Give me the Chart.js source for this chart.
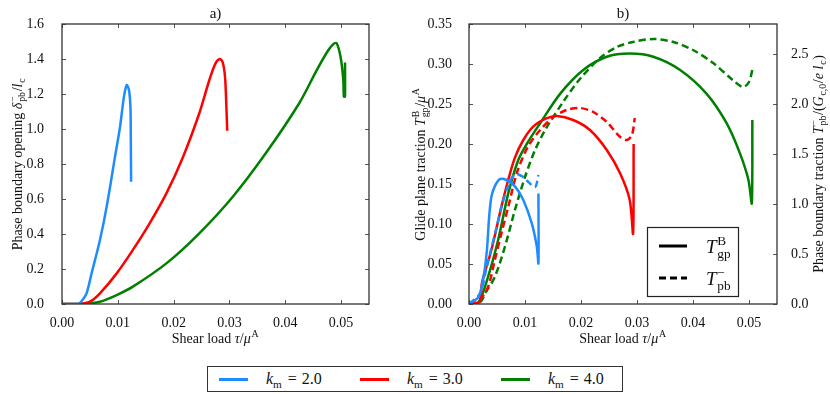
<!DOCTYPE html>
<html>
<head>
<meta charset="utf-8">
<script src="https://cdn.jsdelivr.net/npm/chart.js@4.4.1/dist/chart.umd.min.js"></script>
<style>
  body { margin: 0; background: #fff; width: 830px; height: 394px; position: relative; overflow: hidden; }
  canvas { position: absolute; top: 0; }
  #chartA { left: 0; }
  #chartB { left: 400px; }
  #legend { position: absolute; left: 207px; top: 366px; width: 414px; height: 24px; border: 1px solid #333;
            font-family: "Liberation Serif", "DejaVu Serif", serif; font-size: 16px; color: #111; }
  #legend .ln { position: absolute; top: 11px; width: 29px; height: 3px; }
  #legend .tx { position: absolute; top: 0; line-height: 24px; white-space: nowrap; }
  #legend .eq { margin: 0 5px 0 6px; }
  #legend sub { font-size: 0.7em; vertical-align: -0.35em; line-height: 0; }
</style>
</head>
<body>
<canvas id="chartA" width="400" height="360"></canvas>
<canvas id="chartB" width="430" height="360"></canvas>
<div id="legend"></div>
<script>
// series labels and colours
const kLabels = ['2.0', '3.0', '4.0'];
const kColors = ['#1e8cff', '#ff0000', '#007f00'];

// tick labels
const xTicks = [0, 0.01, 0.02, 0.03, 0.04, 0.05];
const aYTicks = [0, 0.2, 0.4, 0.6, 0.8, 1.0, 1.2, 1.4, 1.6];
const bYTicks = [0, 0.05, 0.10, 0.15, 0.20, 0.25, 0.30, 0.35];
const bY2Ticks = [0, 0.5, 1.0, 1.5, 2.0, 2.5];

// a) phase boundary opening vs shear load
const aBlueX = [0, 0.0029, 0.0036, 0.0044, 0.0053, 0.0068, 0.0080, 0.0095, 0.0104, 0.0111, 0.0116, 0.0120, 0.01226, 0.01232, 0.01238];
const aBlueY = [0, 0, 0.02, 0.061, 0.175, 0.366, 0.556, 0.842, 1.013, 1.185, 1.251, 1.223, 1.127, 0.975, 0.699];
const aRedX = [0, 0.0032, 0.005, 0.0068, 0.0098, 0.0127, 0.0157, 0.0187, 0.0217, 0.0246, 0.0264, 0.0275, 0.0283, 0.0288, 0.0292, 0.0294, 0.0296];
const aRedY = [0, 0, 0.013, 0.061, 0.175, 0.309, 0.461, 0.632, 0.842, 1.09, 1.28, 1.375, 1.40, 1.38, 1.30, 1.17, 0.99];
const aGreenX = [0, 0.0038, 0.0068, 0.0098, 0.0127, 0.0187, 0.0246, 0.0306, 0.0365, 0.0425, 0.0455, 0.0475, 0.0486, 0.0492, 0.0499, 0.0504, 0.0505, 0.0507, 0.0507];
const aGreenY = [0, 0, 0.013, 0.051, 0.099, 0.232, 0.404, 0.613, 0.861, 1.147, 1.328, 1.44, 1.485, 1.49, 1.413, 1.28, 1.185, 1.185, 1.38];

// b) glide plane traction (solid, left axis)
const bBlueX = [0, 0.0017, 0.0026, 0.0032, 0.0036, 0.0040, 0.0046, 0.0055, 0.0067, 0.0082, 0.0097, 0.0112, 0.0121, 0.0124, 0.0124];
const bBlueY = [0, 0.009, 0.034, 0.0675, 0.109, 0.134, 0.147, 0.156, 0.155, 0.147, 0.130, 0.101, 0.072, 0.051, 0.138];
const bRedX = [0, 0.0019, 0.0023, 0.0040, 0.0058, 0.0070, 0.0082, 0.0097, 0.0115, 0.0138, 0.0157, 0.0186, 0.0216, 0.0246, 0.0270, 0.0287, 0.0293, 0.0294];
const bRedY = [0, 0.003, 0.026, 0.0675, 0.122, 0.155, 0.183, 0.205, 0.222, 0.232, 0.235, 0.230, 0.2175, 0.1925, 0.163, 0.130, 0.088, 0.20];
const bGreenX = [0, 0.0017, 0.0034, 0.0052, 0.0070, 0.0088, 0.0103, 0.0127, 0.0163, 0.0204, 0.0246, 0.0287, 0.0329, 0.0377, 0.0424, 0.0460, 0.0484, 0.0499, 0.0505, 0.0506];
const bGreenY = [0, 0.002, 0.034, 0.080, 0.138, 0.180, 0.2, 0.226, 0.263, 0.2925, 0.309, 0.313, 0.309, 0.2925, 0.263, 0.226, 0.188, 0.155, 0.126, 0.23];

// b) phase boundary traction (dashed, right axis)
const bBlueDX = [0, 0.0020, 0.0030, 0.0040, 0.0049, 0.0058, 0.0068, 0.0082, 0.0097, 0.0106, 0.0118, 0.0124];
const bBlueDY = [0, 0.107, 0.33, 0.56, 0.76, 0.97, 1.15, 1.30, 1.27, 1.22, 1.17, 1.29];
const bRedDX = [0, 0.0020, 0.0034, 0.0046, 0.0058, 0.0070, 0.0086, 0.0105, 0.0127, 0.0151, 0.0174, 0.0198, 0.0222, 0.0246, 0.0270, 0.0282, 0.0291, 0.0296];
const bRedDY = [0, 0.05, 0.17, 0.44, 0.71, 0.97, 1.32, 1.57, 1.74, 1.87, 1.94, 1.96, 1.92, 1.82, 1.67, 1.64, 1.69, 1.86];
const bGreenDX = [0, 0.0020, 0.0029, 0.0046, 0.0064, 0.0082, 0.0100, 0.0118, 0.0138, 0.0168, 0.0198, 0.0234, 0.0264, 0.0293, 0.0329, 0.0365, 0.0400, 0.0436, 0.0471, 0.0489, 0.0500, 0.0507];
const bGreenDY = [0, 0.02, 0.107, 0.27, 0.57, 0.94, 1.27, 1.54, 1.76, 2.02, 2.25, 2.46, 2.57, 2.62, 2.65, 2.62, 2.54, 2.41, 2.24, 2.17, 2.22, 2.37];

const FONT = '"Liberation Serif", "DejaVu Serif", serif';
const TXT = '#111';

function pts(xs, ys) { return xs.map((x, i) => ({ x: x, y: ys[i] })); }
function fnt(size, it) { return (it ? 'italic ' : '') + size + 'px ' + FONT; }

// text with sub/superscripts, drawn on the canvas
function drawRich(ctx, parts, x, y, size, align) {
  ctx.save();
  let w = 0;
  const pos = [];
  parts.forEach(p => {
    if (p.sup !== undefined || p.sub !== undefined) {
      ctx.font = fnt(size * 0.7, false);
      const w1 = p.sup ? ctx.measureText(p.sup).width : 0;
      const w2 = p.sub ? ctx.measureText(p.sub).width : 0;
      pos.push(w); w += Math.max(w1, w2) + 1.5;
    } else {
      ctx.font = fnt(size, p.i);
      pos.push(w); w += ctx.measureText(p.t).width;
    }
  });
  const x0 = align === 'center' ? x - w / 2 : (align === 'right' ? x - w : x);
  ctx.textAlign = 'left';
  ctx.textBaseline = 'alphabetic';
  ctx.fillStyle = TXT;
  parts.forEach((p, i) => {
    if (p.sup !== undefined || p.sub !== undefined) {
      ctx.font = fnt(size * 0.7, false);
      if (p.sup) ctx.fillText(p.sup, x0 + pos[i] + 0.8, y - size * 0.42);
      if (p.sub) ctx.fillText(p.sub, x0 + pos[i] + 0.8, y + size * 0.25);
    } else {
      ctx.font = fnt(size, p.i);
      ctx.fillText(p.t, x0 + pos[i], y);
    }
  });
  ctx.restore();
}

function drawRotated(ctx, parts, cx, cy, size) {
  ctx.save();
  ctx.translate(cx, cy);
  ctx.rotate(-Math.PI / 2);
  drawRich(ctx, parts, 0, size * 0.35, size, 'center');
  ctx.restore();
}

const xTitle = [{ t: 'Shear load ' }, { t: 'τ', i: true }, { t: '/' }, { t: 'μ', i: true }, { sup: 'A' }];
const aYTitle = [{ t: 'Phase boundary opening ' }, { t: 'δ', i: true }, { sup: '−', sub: 'pb' }, { t: '/' }, { t: 'l', i: true }, { sub: 'c' }];
const bYTitle = [{ t: 'Glide plane traction ' }, { t: 'T', i: true }, { sup: 'B', sub: 'gp' }, { t: '/' }, { t: 'μ', i: true }, { sup: 'A' }];
const bY2Title = [{ t: 'Phase boundary traction ' }, { t: 'T', i: true }, { sup: '−', sub: 'pb' }, { t: '/(' }, { t: 'G', i: true }, { sub: 'c,0' },
  { t: '/' }, { t: 'e', i: true }, { t: ' ' }, { t: 'l', i: true }, { sub: 'c' }, { t: ')' }];

// frame, inward tick marks, titles
function decor(cfg) {
  return {
    id: 'decor',
    afterDraw(chart) {
      const ctx = chart.ctx, a = chart.chartArea, s = chart.scales;
      ctx.save();
      ctx.strokeStyle = '#555';
      ctx.lineWidth = 1;
      const seg = (x1, y1, x2, y2) => { ctx.beginPath(); ctx.moveTo(x1, y1); ctx.lineTo(x2, y2); ctx.stroke(); };
      s.x.ticks.forEach(t => {
        const px = Math.round(s.x.getPixelForValue(t.value)) + 0.5;
        seg(px, a.bottom, px, a.bottom - 4);
        seg(px, a.top, px, a.top + 4);
      });
      s.y.ticks.forEach(t => {
        const py = Math.round(s.y.getPixelForValue(t.value)) + 0.5;
        seg(a.left, py, a.left + 4, py);
        if (!s.y2) seg(a.right, py, a.right - 4, py);
      });
      if (s.y2) s.y2.ticks.forEach(t => {
        const py = Math.round(s.y2.getPixelForValue(t.value)) + 0.5;
        seg(a.right, py, a.right - 4, py);
      });
      ctx.strokeStyle = '#333';
      ctx.lineWidth = 1.3;
      ctx.strokeRect(a.left, a.top, a.right - a.left, a.bottom - a.top);
      ctx.restore();

      const cx = (a.left + a.right) / 2;
      ctx.save();
      ctx.font = fnt(15, false);
      ctx.fillStyle = TXT;
      ctx.textAlign = 'center';
      ctx.fillText(cfg.title, cx, 18);
      ctx.restore();
      drawRich(ctx, xTitle, cx, 343, 14, 'center');
      drawRotated(ctx, cfg.yTitle, cfg.yTitleX, (a.top + a.bottom) / 2, 14);
      if (cfg.y2Title) drawRotated(ctx, cfg.y2Title, cfg.y2TitleX, (a.top + a.bottom) / 2, 14);
      if (cfg.styleKey) cfg.styleKey(ctx);
    }
  };
}

function fixedTicks(list) { return scale => { scale.ticks = list.map(v => ({ value: v })); }; }
const tickFont = { family: FONT, size: 14 };

function line(label, xs, ys, color, dashed, axis) {
  return {
    label: label, data: pts(xs, ys), borderColor: color, backgroundColor: color,
    borderWidth: 2.5, borderDash: dashed ? [7, 4] : [], pointRadius: 0, tension: 0.3,
    yAxisID: axis || 'y', fill: false
  };
}

Chart.defaults.color = TXT;

new Chart(document.getElementById('chartA'), {
  type: 'line',
  data: {
    datasets: [
      line('k = ' + kLabels[0], aBlueX, aBlueY, kColors[0]),
      line('k = ' + kLabels[1], aRedX, aRedY, kColors[1]),
      line('k = ' + kLabels[2], aGreenX, aGreenY, kColors[2])
    ]
  },
  options: {
    responsive: false, animation: false,
    layout: { padding: { left: 0, top: 24, right: 31, bottom: 0 } },
    plugins: { legend: { display: false }, tooltip: { enabled: false } },
    scales: {
      x: {
        type: 'linear', min: 0, max: 0.055,
        grid: { display: false }, border: { display: false },
        afterBuildTicks: fixedTicks(xTicks), afterFit: s => { s.height = 56; },
        ticks: { font: tickFont, padding: 3, maxRotation: 0, callback: v => v.toFixed(2) }
      },
      y: {
        min: 0, max: 1.6,
        grid: { display: false }, border: { display: false },
        afterBuildTicks: fixedTicks(aYTicks), afterFit: s => { s.width = 62; },
        ticks: { font: tickFont, padding: 10, callback: v => v.toFixed(1) }
      }
    }
  },
  plugins: [decor({ title: 'a)', yTitle: aYTitle, yTitleX: 17 })]
});

function styleKey(ctx) {
  const x0 = 247, y0 = 227, w = 91, h = 69;
  ctx.save();
  ctx.fillStyle = '#fff';
  ctx.fillRect(x0, y0, w, h);
  ctx.strokeStyle = '#222';
  ctx.lineWidth = 1.2;
  ctx.strokeRect(x0 + 0.5, y0 + 0.5, w, h);
  ctx.strokeStyle = '#000';
  ctx.lineWidth = 3;
  ctx.beginPath(); ctx.moveTo(259, 246); ctx.lineTo(287, 246); ctx.stroke();
  ctx.setLineDash([7, 4]);
  ctx.beginPath(); ctx.moveTo(259, 278); ctx.lineTo(287, 278); ctx.stroke();
  ctx.restore();
  drawRich(ctx, [{ t: 'T', i: true }, { sup: 'B', sub: 'gp' }], 306, 253, 19, 'left');
  drawRich(ctx, [{ t: 'T', i: true }, { sup: '−', sub: 'pb' }], 306, 285, 19, 'left');
}

new Chart(document.getElementById('chartB'), {
  type: 'line',
  data: {
    datasets: [
      line('k = ' + kLabels[0], bBlueX, bBlueY, kColors[0]),
      line('k = ' + kLabels[0], bBlueDX, bBlueDY, kColors[0], true, 'y2'),
      line('k = ' + kLabels[1], bRedX, bRedY, kColors[1]),
      line('k = ' + kLabels[1], bRedDX, bRedDY, kColors[1], true, 'y2'),
      line('k = ' + kLabels[2], bGreenX, bGreenY, kColors[2]),
      line('k = ' + kLabels[2], bGreenDX, bGreenDY, kColors[2], true, 'y2')
    ]
  },
  options: {
    responsive: false, animation: false,
    layout: { padding: { left: 0, top: 24, right: 0, bottom: 0 } },
    plugins: { legend: { display: false }, tooltip: { enabled: false } },
    scales: {
      x: {
        type: 'linear', min: 0, max: 0.055,
        grid: { display: false }, border: { display: false },
        afterBuildTicks: fixedTicks(xTicks), afterFit: s => { s.height = 56; },
        ticks: { font: tickFont, padding: 3, maxRotation: 0, callback: v => v.toFixed(2) }
      },
      y: {
        position: 'left', min: 0, max: 0.35,
        grid: { display: false }, border: { display: false },
        afterBuildTicks: fixedTicks(bYTicks), afterFit: s => { s.width = 69; },
        ticks: { font: tickFont, padding: 9, callback: v => v.toFixed(2) }
      },
      y2: {
        position: 'right', min: 0, max: 2.8,
        grid: { display: false }, border: { display: false },
        afterBuildTicks: fixedTicks(bY2Ticks), afterFit: s => { s.width = 53; },
        ticks: { font: tickFont, padding: 6, callback: v => v.toFixed(1) }
      }
    }
  },
  plugins: [decor({ title: 'b)', yTitle: bYTitle, yTitleX: 20, y2Title: bY2Title, y2TitleX: 418, styleKey: styleKey })]
});

// bottom legend built from the series arrays
const legend = document.getElementById('legend');
const lineLeft = [11, 152, 293];
kLabels.forEach((k, i) => {
  const ln = document.createElement('span');
  ln.className = 'ln';
  ln.style.left = lineLeft[i] + 'px';
  ln.style.background = kColors[i];
  legend.appendChild(ln);
  const tx = document.createElement('span');
  tx.className = 'tx';
  tx.style.left = (lineLeft[i] + 47) + 'px';
  tx.innerHTML = '<i>k</i><sub>m</sub><span class="eq">=</span>' + k;
  legend.appendChild(tx);
});
</script>
</body>
</html>
